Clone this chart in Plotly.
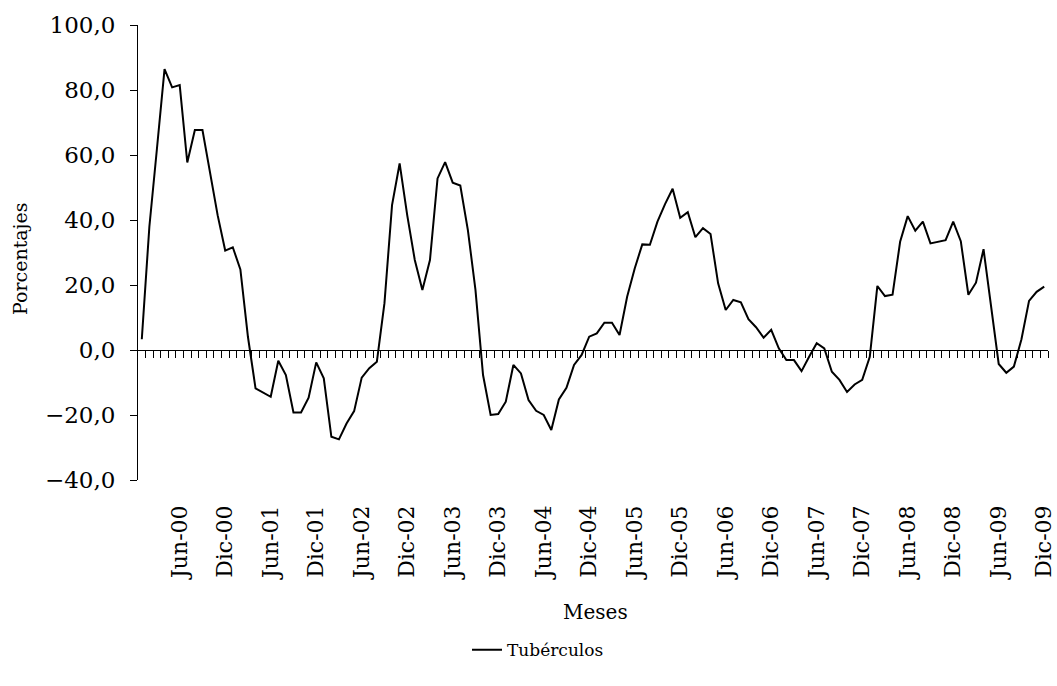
import plotly.graph_objects as go

# Monthly series Jan-2000 .. Dec-2009 (percent variation)
meses = [f"{m}-{a:02d}" for a in range(0, 10)
         for m in ["Ene", "Feb", "Mar", "Abr", "May", "Jun",
                   "Jul", "Ago", "Sep", "Oct", "Nov", "Dic"]]

tuberculos = [
    3.3, 38.0, 62.0, 86.4, 80.8, 81.5, 57.7, 67.7, 67.7, 54.4, 41.5, 30.6,
    31.6, 24.8, 4.0, -11.8, -13.1, -14.4, -3.3, -7.7, -19.2, -19.2, -14.7, -3.8,
    -8.7, -26.7, -27.5, -22.6, -18.8, -8.5, -5.6, -3.6, 14.4, 44.6, 57.4, 41.5,
    27.7, 18.5, 27.7, 52.8, 57.8, 51.5, 50.6, 36.9, 18.5, -7.7, -20.0, -19.7,
    -15.9, -4.6, -7.2, -15.4, -18.7, -20.0, -24.6, -15.2, -11.6, -4.6, -1.5, 4.1,
    5.1, 8.4, 8.4, 4.6, 16.4, 25.1, 32.5, 32.4, 39.5, 44.9, 49.6, 40.7,
    42.4, 34.7, 37.5, 35.7, 20.5, 12.3, 15.4, 14.7, 9.5, 7.0, 3.8, 6.2,
    0.5, -3.1, -3.1, -6.5, -2.1, 2.1, 0.5, -6.7, -9.2, -12.9, -10.6, -9.2,
    -2.1, 19.7, 16.6, 17.0, 33.3, 41.2, 36.7, 39.5, 32.8, 33.3, 33.8, 39.5,
    33.5, 17.0, 20.7, 31.0, 13.8, -4.3, -7.0, -5.1, 3.3, 15.1, 17.9, 19.5,
]

# Labelled months: every June and December
etiquetas = ["Jun-00", "Dic-00", "Jun-01", "Dic-01", "Jun-02", "Dic-02",
             "Jun-03", "Dic-03", "Jun-04", "Dic-04", "Jun-05", "Dic-05",
             "Jun-06", "Dic-06", "Jun-07", "Dic-07", "Jun-08", "Dic-08",
             "Jun-09", "Dic-09"]
pos_etiquetas = [meses.index(e) for e in etiquetas]

n = len(tuberculos)
x = list(range(n))
FONT = "DejaVu Serif"

fig = go.Figure()
fig.add_trace(go.Scatter(
    x=x, y=tuberculos, mode="lines", name="Tubérculos",
    line=dict(color="black", width=2),
    xaxis="x", yaxis="y",
))
# helper trace so the zero-line axis gets drawn
fig.add_trace(go.Scatter(x=[None], y=[None], xaxis="x2", yaxis="y",
                         showlegend=False, hoverinfo="skip"))

y_min, y_max = -40, 100
L, R = 138, 1048          # plot area, px
plot_w = R - L

fig.update_layout(
    width=1057, height=686,
    margin=dict(l=L, r=1057 - R, t=25, b=206, autoexpand=False),
    paper_bgcolor="white", plot_bgcolor="white",
    separators=",.",
    font=dict(family=FONT, color="black", size=22),
    showlegend=True,
    legend=dict(orientation="h", x=(538 - L) / plot_w, xanchor="center",
                y=-0.374, yanchor="middle",
                font=dict(family=FONT, size=17, color="black"),
                bgcolor="rgba(0,0,0,0)"),
    xaxis=dict(
        range=[-0.5, n - 0.5], automargin=False,
        tickmode="array", tickvals=pos_etiquetas, ticktext=etiquetas,
        tickangle=-90, ticks="", showline=False, showgrid=False,
        zeroline=False, ticklabelstandoff=20, ticklabeloverflow="allow",
        tickfont=dict(family=FONT, size=22, color="black"),
    ),
    xaxis2=dict(
        overlaying="x", anchor="free", automargin=False,
        position=(0 - y_min) / (y_max - y_min),
        range=[-0.5, n - 0.5],
        tickmode="array", tickvals=[i + 0.5 for i in range(n)],
        ticks="outside", ticklen=7, tickwidth=1, tickcolor="black",
        showticklabels=False, showline=True, linecolor="black",
        linewidth=1, showgrid=False, zeroline=False,
    ),
    yaxis=dict(
        range=[y_min, y_max], dtick=20, tick0=0, tickformat=".1f",
        automargin=False,
        ticks="outside", ticklen=7, tickwidth=1, tickcolor="black",
        showline=True, linecolor="black", linewidth=1,
        showgrid=False, zeroline=False, ticklabelstandoff=10,
        tickfont=dict(family=FONT, size=23, color="black"),
    ),
    annotations=[
        dict(text="Porcentajes", xref="paper", yref="paper",
             x=(20 - L) / plot_w, y=(480 - 258) / 455,
             xanchor="center", yanchor="middle", textangle=-90,
             showarrow=False, font=dict(family=FONT, size=19, color="black")),
        dict(text="Meses", xref="paper", yref="paper",
             x=(595 - L) / plot_w, y=(480 - 612) / 455,
             xanchor="center", yanchor="middle",
             showarrow=False, font=dict(family=FONT, size=20, color="black")),
    ],
)

fig.write_html("out.html")
